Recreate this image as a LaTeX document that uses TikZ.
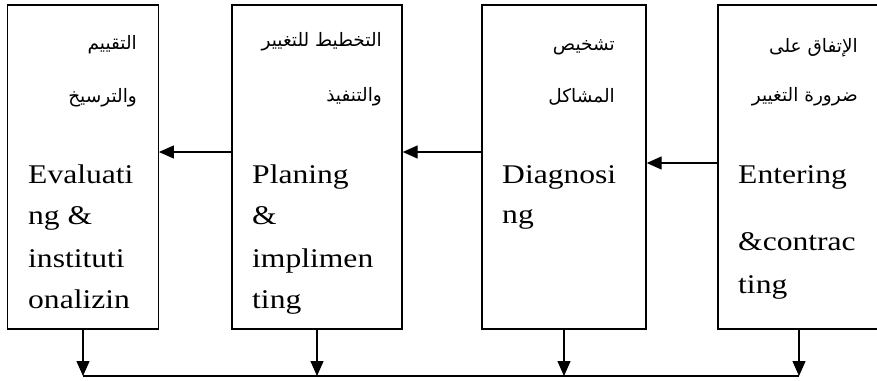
\documentclass[tikz,border=0pt]{standalone}
\usepackage{fontspec}
\setmainfont{Liberation Serif}
\newfontfamily\engfont[FakeStretch=1.17]{Liberation Serif}
\newfontfamily\arabicfont[Script=Arabic]{DejaVu Sans}
\TeXXeTstate=1
\usetikzlibrary{arrows.meta}
\begin{document}
\begin{tikzpicture}[x=1pt,y=-1pt,
  stagebox/.style={draw,line width=1.3pt,rectangle,inner sep=0pt},
  eng/.style={anchor=base west,inner sep=0pt,font=\engfont\fontsize{27}{30}\selectfont},
  arab/.style={anchor=east,inner sep=0pt,font=\arabicfont\fontsize{18.5}{22}\selectfont},
  arr/.style={line width=1.3pt,-{Triangle[length=15pt,width=13pt]}},
  ln/.style={line width=1.3pt}]
\useasboundingbox (0,0) rectangle (877,380);
% boxes
\node[stagebox,minimum width=150.5pt,minimum height=324pt] (b1) at (83,167) {};
\node[stagebox,minimum width=170pt,minimum height=324pt] (b2) at (317,167) {};
\node[stagebox,minimum width=164pt,minimum height=324pt] (b3) at (564,167) {};
\node[stagebox,minimum width=162pt,minimum height=324pt] (b4) at (799,167) {};
% arabic labels
\node[arab] (a1a) at (137,45) {\beginR التقييم\endR};
\node[arab] (a1b) at (137,98) {\beginR والترسيخ\endR};
\node[arab] (a2a) at (382,42) {\beginR التخطيط للتغيير\endR};
\node[arab] (a2b) at (382,97) {\beginR والتنفيذ\endR};
\node[arab] (a3a) at (615,47) {\beginR تشخيص\endR};
\node[arab] (a3b) at (615,97) {\beginR المشاكل\endR};
\node[arab] (a4a) at (858,48) {\beginR الإتفاق على\endR};
\node[arab] (a4b) at (858,97) {\beginR ضرورة التغيير\endR};
% english labels
\node[eng] (e1a) at (28,183) {Evaluati};
\node[eng] (e1b) at (28,224) {ng \&};
\node[eng] (e1c) at (28,267) {instituti};
\node[eng] (e1d) at (28,308) {onalizin};
\node[eng] (e2a) at (252,183) {Planing};
\node[eng] (e2b) at (252,224) {\&};
\node[eng] (e2c) at (252,267) {implimen};
\node[eng] (e2d) at (252,308) {ting};
\node[eng] (e3a) at (502,183) {Diagnosi};
\node[eng] (e3b) at (502,223) {ng};
\node[eng] (e4a) at (738,183) {Entering};
\node[eng] (e4b) at (738,250) {\&contrac};
\node[eng] (e4c) at (738,293) {ting};
% horizontal connectors
\coordinate (h12) at (0,152);
\coordinate (h34) at (0,163);
\coordinate (bot) at (0,376);
\draw[arr] (b2.west |- h12) -- (b1.east |- h12);
\draw[arr] (b3.west |- h12) -- (b2.east |- h12);
\draw[arr] (b4.west |- h34) -- (b3.east |- h34);
% vertical connectors
\draw[arr] (b1.south) -- (b1.south |- bot);
\draw[arr] (b2.south) -- (b2.south |- bot);
\draw[arr] (b3.south) -- (b3.south |- bot);
\draw[arr] (b4.south) -- (b4.south |- bot);
\draw[ln] (b1.south |- bot) -- (b4.south |- bot);
\end{tikzpicture}
\end{document}
